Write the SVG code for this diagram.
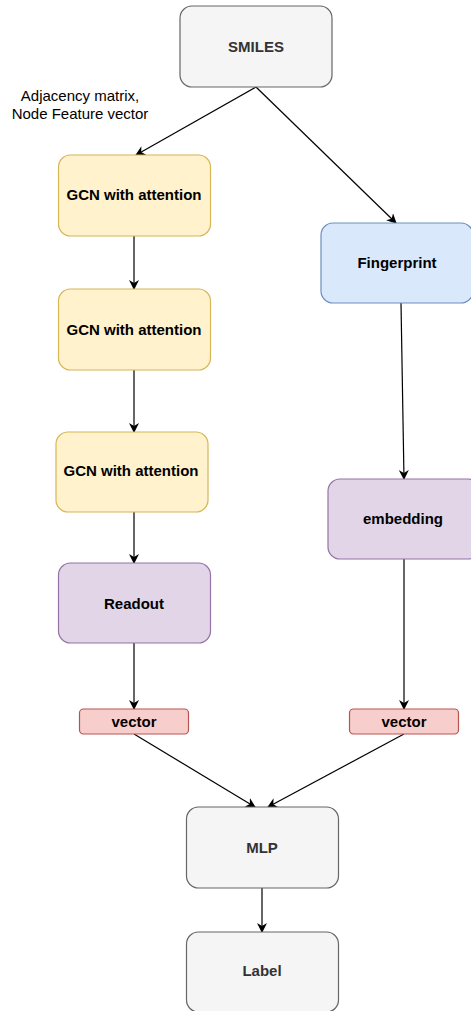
<svg xmlns="http://www.w3.org/2000/svg" width="471" height="1011" viewBox="0 0 471 1011">
<defs>
<style>
.t{font-family:"Liberation Sans",Arial,Helvetica,sans-serif;font-size:15px;font-weight:bold;text-anchor:middle;dominant-baseline:central;fill:#000}
.tg{fill:#333333}
.gray{fill:#f5f5f5;stroke:#666666;stroke-width:1.2}
.yel{fill:#fff2cc;stroke:#d6b656;stroke-width:1.2}
.blue{fill:#dae8fc;stroke:#6c8ebf;stroke-width:1.2}
.pur{fill:#e1d5e7;stroke:#9673a6;stroke-width:1.2}
.red{fill:#f8cecc;stroke:#b85450;stroke-width:1.2}
.c{fill:none;stroke:#000;stroke-width:1.2;marker-end:url(#arr)}
.lbl{font-family:"Liberation Sans",Arial,Helvetica,sans-serif;font-size:15px;fill:#000;text-anchor:middle}
</style>
<marker id="arr" viewBox="0 0 10 10" refX="9" refY="5" markerWidth="10" markerHeight="10" markerUnits="userSpaceOnUse" orient="auto">
<path d="M0,0 L10,5 L0,10 L3,5 Z" fill="#000"/>
</marker>
</defs>
<g id="connectors">
<line class="c" x1="256" y1="87" x2="136" y2="155"/>
<line class="c" x1="256" y1="87" x2="396" y2="223"/>
<line class="c" x1="134" y1="236" x2="134" y2="289"/>
<line class="c" x1="134" y1="370" x2="134" y2="432"/>
<line class="c" x1="134" y1="512" x2="134" y2="563"/>
<line class="c" x1="134" y1="643" x2="134" y2="709"/>
<line class="c" x1="401" y1="303" x2="404" y2="479"/>
<line class="c" x1="404" y1="559" x2="404" y2="709"/>
<line class="c" x1="134" y1="734" x2="255" y2="807"/>
<line class="c" x1="404" y1="734" x2="268" y2="807"/>
<line class="c" x1="262" y1="888" x2="262" y2="932"/>
</g>
<g id="edge-label">
<text class="lbl" x="80" y="101">Adjacency matrix,</text>
<text class="lbl" x="80" y="119">Node Feature vector</text>
</g>
<g id="smiles"><rect class="gray" x="180" y="6" width="152" height="81" rx="12"/><text class="t tg" x="256" y="46">SMILES</text></g>
<g id="gcn1"><rect class="yel" x="58.5" y="155" width="152" height="81" rx="12"/><text class="t" x="134" y="194">GCN with attention</text></g>
<g id="gcn2"><rect class="yel" x="58.5" y="289" width="152" height="81" rx="12"/><text class="t" x="134" y="329">GCN with attention</text></g>
<g id="gcn3"><rect class="yel" x="56" y="432" width="152" height="80" rx="12"/><text class="t" x="131" y="470">GCN with attention</text></g>
<g id="readout"><rect class="pur" x="58.5" y="563" width="152" height="80" rx="12"/><text class="t" x="134" y="603">Readout</text></g>
<g id="vector1"><rect class="red" x="79.5" y="709" width="109" height="25" rx="4"/><text class="t" x="134" y="721.5">vector</text></g>
<g id="fingerprint"><rect class="blue" x="321" y="223" width="152" height="80" rx="12"/><text class="t" x="397" y="262">Fingerprint</text></g>
<g id="embedding"><rect class="pur" x="328" y="479" width="152" height="80" rx="12"/><text class="t" x="403" y="518">embedding</text></g>
<g id="vector2"><rect class="red" x="349.5" y="709" width="109" height="25" rx="4"/><text class="t" x="404" y="721.5">vector</text></g>
<g id="mlp"><rect class="gray" x="186.5" y="807" width="152" height="81" rx="12"/><text class="t tg" x="262" y="847">MLP</text></g>
<g id="label"><rect class="gray" x="186.5" y="932" width="152" height="80" rx="12"/><text class="t tg" x="262" y="970">Label</text></g>
</svg>
